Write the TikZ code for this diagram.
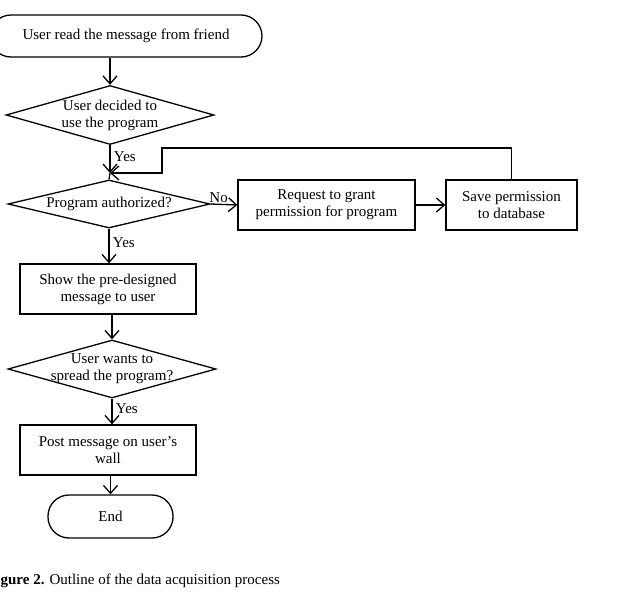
\documentclass[tikz,border=0pt]{standalone}
\usepackage{fontspec}
\setmainfont{Liberation Serif}
\usetikzlibrary{shapes.geometric,arrows.meta}

\tikzset{
    arr/.style={-{Straight Barb[length=8pt,width=14pt]}},
    terminal/.style={draw, rectangle, rounded corners=21pt, minimum height=42pt},
    process/.style={draw, rectangle, align=center, inner sep=0pt},
    decision/.style={draw, diamond, aspect=3.5, align=center, inner sep=-14pt}
}

\begin{document}
\begin{tikzpicture}[x=1pt, y=-1pt, line width=1.3pt, font=\fontsize{15}{17}\selectfont]
        \useasboundingbox (0,0) rectangle (630,592);

        % Nodes
        \node[terminal, minimum width=272pt] (start) at (126,36) {User read the message from friend};
        \node[decision, minimum width=208pt, minimum height=59pt] (dec1) at (110,115) {User decided to\\use the program};
        \node[decision, minimum width=202pt, minimum height=48pt] (auth) at (109,204) {Program authorized?};
        \node[process, minimum width=177pt, minimum height=50pt] (req) at (326.5,205) {Request to grant\\permission for program};
        \node[process, minimum width=131pt, minimum height=50pt] (save) at (511.5,205) {Save permission\\to database};
        \node[process, minimum width=176pt, minimum height=50pt] (show) at (108,289) {Show the pre-designed\\message to user};
        \node[decision, minimum width=208pt, minimum height=58pt] (dec2) at (112,369) {User wants to\\spread the program?};
        \node[process, minimum width=176pt, minimum height=50pt] (post) at (108,450) {Post message on user’s\\wall};
        \node[terminal, minimum width=125pt, minimum height=43pt] (end) at (110.5,516.5) {End};

        % Helper points
        \coordinate (join) at (110,173);
        \coordinate (back) at (162,148);

        % Connectors
        \draw[arr] (start.south -| dec1.north) -- (dec1.north);
        \draw[arr] (dec1.south) -- (join) node[right, pos=0.4] (yes1) {Yes};
        \draw (join) -- (auth.north);
        \draw[arr] (save.north) |- (back) |- (join);
        \draw[arr] (auth.east) -- (req.west) node[above, pos=0.3, inner sep=1pt] (no) {No};
        \draw[arr] (req.east) -- (save.west);
        \draw[arr] (auth.south) -- (auth.south |- show.north) node[right, pos=0.4] (yes2) {Yes};
        \draw[arr] (show.south -| dec2.north) -- (dec2.north);
        \draw[arr] (dec2.south) -- (dec2.south |- post.north) node[right, pos=0.4] (yes3) {Yes};
        \draw[arr] (post.south -| end.north) -- (end.north);

        % Caption
        \node[anchor=west, inner sep=0pt] (caption) at (0,581) {\textbf{gure 2.} Outline of the data acquisition process};
\end{tikzpicture}
\end{document}
